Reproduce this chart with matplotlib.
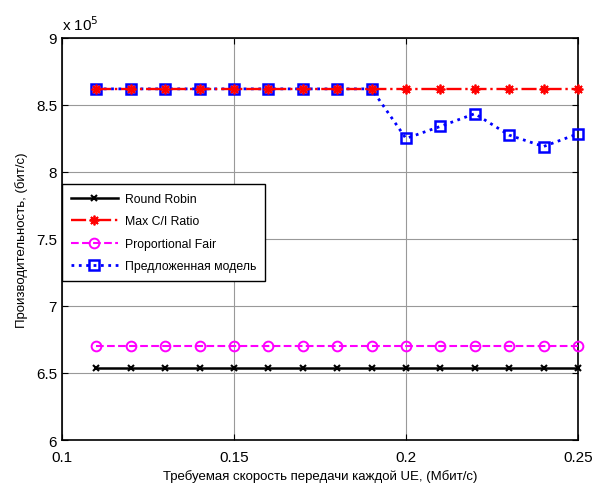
import numpy as np
import matplotlib
matplotlib.use('Agg')
import matplotlib.pyplot as plt
from matplotlib.ticker import FuncFormatter

plt.rcParams['font.family'] = ['Liberation Sans', 'DejaVu Sans']

# скорость передачи (Мбит/с)
rate = [0.11, 0.12, 0.13, 0.14, 0.15, 0.16, 0.17, 0.18, 0.19, 0.20, 0.21, 0.22, 0.23, 0.24, 0.25]

# производительность, бит/с
round_robin = [6.54e5] * 15
max_ci = [8.62e5] * 15
prop_fair = [6.70e5] * 15
proposed = [8.62e5, 8.62e5, 8.62e5, 8.62e5, 8.62e5, 8.62e5, 8.62e5, 8.62e5, 8.62e5,
            8.25e5, 8.34e5, 8.435e5, 8.275e5, 8.19e5, 8.285e5]

xticks = [0.1, 0.15, 0.2, 0.25]
yticks = [6e5, 6.5e5, 7e5, 7.5e5, 8e5, 8.5e5, 9e5]

fig = plt.figure(figsize=(5.92, 4.85), dpi=100)
ax = fig.add_axes([0.1047, 0.0907, 0.8716, 0.829])

ax.plot(rate, round_robin, color='black', linestyle='-', linewidth=1.8, marker='x',
        markersize=5, markeredgewidth=1.5, label='Round Robin', zorder=3, clip_on=False)
ax.plot(rate, prop_fair, color='magenta', linestyle='--', linewidth=1.5, marker='o',
        markersize=7, markerfacecolor='none', markeredgewidth=1.4, label='Proportional Fair',
        zorder=3, clip_on=False)
ax.plot(rate, proposed, color='blue', linestyle=':', linewidth=2, marker='s',
        markersize=7, markerfacecolor='none', markeredgewidth=1.8, label='Предложенная модель',
        zorder=3, clip_on=False)
ax.plot(rate, max_ci, color='red', linestyle='-.', linewidth=1.7, marker=(8, 2, 0),
        markersize=7, markeredgewidth=1.3, label='Max C/I Ratio', zorder=4, clip_on=False)

ax.set_xlim(0.1, 0.25)
ax.set_ylim(6e5, 9e5)
ax.set_xticks(xticks)
ax.set_yticks(yticks)
ax.xaxis.set_major_formatter(FuncFormatter(lambda v, p: '%g' % round(v, 3)))
ax.yaxis.set_major_formatter(FuncFormatter(lambda v, p: '%g' % round(v / 1e5, 2)))
ax.tick_params(direction='in', top=True, right=True, labelsize=11, length=4)
ax.tick_params(axis='x', pad=7)
ax.grid(True, color='#999999', linewidth=0.8)
for s in ax.spines.values():
    s.set_linewidth(1.2)

ax.text(0.0, 1.012, 'x 10$^5$', transform=ax.transAxes, fontsize=11, ha='left', va='bottom')

ax.set_xlabel('Требуемая скорость передачи каждой UE, (Мбит/с)', fontsize=9.5, labelpad=4)
ax.set_ylabel('Производительность, (бит/с)', fontsize=9.5, labelpad=6)

h, l = ax.get_legend_handles_labels()
order = [0, 3, 1, 2]
leg = ax.legend([h[i] for i in order], [l[i] for i in order], loc='upper left',
                bbox_to_anchor=(0.0, 0.637), fontsize=8.8, handlelength=3.8,
                handletextpad=0.6, fancybox=False, edgecolor='black', framealpha=1,
                borderaxespad=0, labelspacing=0.85, borderpad=0.75)
leg.get_frame().set_linewidth(1.0)

fig.savefig('out.png', dpi=100)
